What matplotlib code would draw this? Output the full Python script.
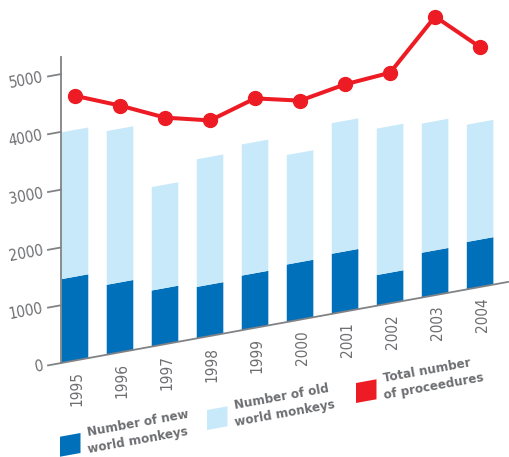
import numpy as np
import matplotlib
matplotlib.use('Agg')
import matplotlib.pyplot as plt
from matplotlib.transforms import Affine2D
from matplotlib.patches import Rectangle

years = ['1995', '1996', '1997', '1998', '1999', '2000', '2001', '2002', '2003', '2004']
new_world = [1450, 1210, 970, 890, 945, 995, 1040, 530, 775, 820]
old_world = [2540, 2660, 1790, 2210, 2270, 1895, 2260, 2535, 2235, 2030]
total = [4580, 4270, 3920, 3730, 3970, 3790, 3930, 3990, 4820, 4150]
yticks = [0, 1000, 2000, 3000, 4000, 5000]

DARK = '#0070bb'
LIGHT = '#c8e9f9'
RED = '#ed1c24'
GREY = '#808285'
TEXT = '#6d6e71'

plt.rcParams['font.family'] = ['DejaVu Sans']
plt.rcParams['font.stretch'] = 'condensed'

W, H = 509, 457
fig = plt.figure(figsize=(W / 100, H / 100), dpi=100)
ax = fig.add_axes([61 / W, 96.5 / H, 447 / W, 306.3 / H])
ax.set_xlim(-0.311, 9.62)
ax.set_ylim(0, 5300)
ax.set_axis_off()
xmin, xmax = ax.get_xlim()
ymax = ax.get_ylim()[1]

# the whole chart is slanted: y rises with x, pivoting on the first bar
slant = 0.1815
pivot = 75
shear = Affine2D().translate(-pivot, 0).skew(0, np.arctan(slant)).translate(pivot, 0)
tr = ax.transData + shear
angle = np.degrees(np.arctan(slant))
px = 45.0  # pixels per category

x = np.arange(len(years))
b1 = ax.bar(x, new_world, 0.59, color=DARK, linewidth=0)
b2 = ax.bar(x, old_world, 0.59, bottom=new_world, color=LIGHT, linewidth=0)
for p in list(b1) + list(b2):
    p.set_transform(tr)
    p.set_clip_on(False)

# axes lines and ticks
ax.plot([xmin, xmin], [0, ymax], color=GREY, lw=1.3, transform=tr, clip_on=False)
ax.plot([xmin, xmax], [0, 0], color=GREY, lw=1.3, transform=tr, clip_on=False)
for v in yticks:
    ax.plot([xmin - 13 / px, xmin], [v, v], color=GREY, lw=1.3, transform=tr, clip_on=False)
    ax.text(xmin, v, str(v), transform=ax.transData + Affine2D().translate(-18, 0) + shear,
            ha='right', va='center', rotation=angle, rotation_mode='anchor',
            fontsize=11, color=TEXT)

for i, yr in enumerate(years):
    ax.text(i, 0, yr, transform=ax.transData + Affine2D().translate(2, -11) + shear,
            ha='center', va='top', rotation=90, fontsize=11, color=TEXT)

ax.plot(x, total, color=RED, lw=2.9, marker='o', ms=10, transform=tr,
        clip_on=False, zorder=5)

# legend
legend = [
    (60, DARK, ['Number of new', 'world monkeys']),
    (207, LIGHT, ['Number of old', 'world monkeys']),
    (356, RED, ['Total number', 'of proceedures']),
]
for lx, col, lines in legend:
    ax.add_patch(Rectangle((lx, 3), 20.5, 20, transform=shear, color=col,
                           linewidth=0, clip_on=False))
    for j, line in enumerate(lines):
        ax.text(lx + 28, 19 - 17.5 * j, line, transform=shear, ha='left', va='baseline',
                rotation=angle, rotation_mode='anchor', fontsize=9.5,
                fontweight='bold', color=TEXT)

fig.savefig('out.png', dpi=100)
